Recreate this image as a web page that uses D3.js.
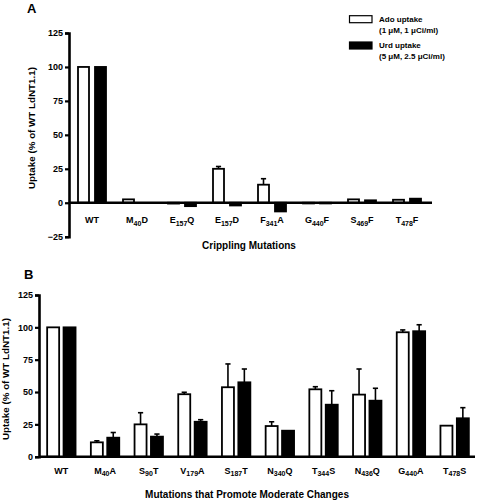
<!DOCTYPE html>
<html><head><meta charset="utf-8">
<script src="https://cdn.jsdelivr.net/npm/d3@7"></script>
<style>
body{margin:0;background:#fff;}
svg text{font-family:"Liberation Sans",Arial,sans-serif;font-weight:bold;fill:#000;}
</style></head>
<body><svg id="c" width="477" height="500"></svg>
<script>
// Panel A data
const catsA = ["WT","M40D","E157Q","E157D","F341A","G440F","S469F","T478F"];
const adoA = [100, 2.5, -0.6, 25, 13.3, -0.5, 2.5, 2.2];
const adoErrA = [0, 0, 0, 1.7, 4.4, 0, 0, 0];
const urdA = [100, 0, -2.5, -2, -6.4, -0.5, 1.8, 3];
const urdErrA = [0, 0, 0, 0, 0, 0, 0, 0];
const ticksA = [-25, 0, 25, 50, 75, 100, 125];

// Panel B data
const catsB = ["WT","M40A","S90T","V179A","S187T","N340Q","T344S","N436Q","G440A","T478S"];
const adoB = [100, 11.1, 25, 48.3, 53.7, 23.7, 52.1, 48, 96.2, 24];
const adoErrB = [0, 1.2, 9, 1.5, 18, 3.3, 2, 19.8, 1.8, 0];
const urdB = [100, 14.7, 15.5, 27, 57.5, 20.1, 40.2, 43.3, 97, 29.7];
const urdErrB = [0, 4, 2, 1.6, 10.3, 0, 10.8, 9.6, 5, 8.2];
const ticksB = [0, 25, 50, 75, 100, 125];

const seriesNames = ["Ado uptake", "Urd uptake"];
const seriesSub = ["(1 \u03bcM, 1 \u03bcCi/ml)", "(5 \u03bcM, 2.5 \u03bcCi/ml)"];
const yTitle = "Uptake (% of WT LdNT1.1)";

const svg = d3.select("#c");

function label(sel, txt){
  const m = txt.match(/^([A-Z])(\d+)([A-Z])$/);
  if(!m){ sel.text(txt); return; }
  sel.append("tspan").text(m[1]);
  sel.append("tspan").attr("font-size","7px").attr("dy","2.5").text(m[2]);
  sel.append("tspan").attr("dy","-2.5").text(m[3]);
}

function panel(o){
  const g = svg.append("g");
  const x = d3.scaleBand().domain(o.cats).range(o.xr);
  const y = d3.scaleLinear().domain(o.yd).range(o.yr);
  const bw = o.bw, off = o.off;
  const data = o.cats.map((c,i)=>({c, a:o.ado[i], ae:o.adoErr[i], u:o.urd[i], ue:o.urdErr[i]}));
  // error bars
  [["a","ae",-off],["u","ue",off]].forEach(([k,ek,dx])=>{
    const ed = data.filter(d=>d[ek]>0);
    g.selectAll(null).data(ed).enter().append("line")
      .attr("x1",d=>x(d.c)+x.bandwidth()/2+dx).attr("x2",d=>x(d.c)+x.bandwidth()/2+dx)
      .attr("y1",d=>y(d[k])).attr("y2",d=>y(d[k]+d[ek]))
      .attr("stroke","#000").attr("stroke-width",1.6);
    g.selectAll(null).data(ed).enter().append("line")
      .attr("x1",d=>x(d.c)+x.bandwidth()/2+dx-2.6).attr("x2",d=>x(d.c)+x.bandwidth()/2+dx+2.6)
      .attr("y1",d=>y(d[k]+d[ek])).attr("y2",d=>y(d[k]+d[ek]))
      .attr("stroke","#000").attr("stroke-width",1.6);
  });
  g.selectAll(null).data(data).enter().append("rect")
    .attr("x",d=>x(d.c)+x.bandwidth()/2-off-bw/2).attr("width",bw)
    .attr("y",d=>y(Math.max(0,d.a))).attr("height",d=>Math.abs(y(d.a)-y(0)))
    .attr("fill","#fff").attr("stroke","#000").attr("stroke-width",1.8);
  g.selectAll(null).data(data).enter().append("rect")
    .attr("x",d=>x(d.c)+x.bandwidth()/2+off-bw/2).attr("width",bw)
    .attr("y",d=>y(Math.max(0,d.u))).attr("height",d=>Math.abs(y(d.u)-y(0)))
    .attr("fill","#000").attr("stroke","#000").attr("stroke-width",1.8);
  // y axis
  const ya = d3.axisLeft(y).tickValues(o.ticks).tickSize(4).tickPadding(2);
  const yg = g.append("g").attr("transform",`translate(${o.xr[0]-0.5},0)`).call(ya);
  yg.select(".domain").attr("stroke-width",2.6);
  yg.selectAll(".tick line").attr("stroke-width",2.2);
  yg.selectAll(".tick text").attr("font-size","9px").attr("font-family",null);
  // x axis line at 0
  g.append("line").attr("x1",o.xr[0]-0.5).attr("x2",o.xEnd)
    .attr("y1",y(0)).attr("y2",y(0)).attr("stroke","#000").attr("stroke-width",2.6);
  // category labels
  g.selectAll(null).data(o.cats).enter().append("text")
    .attr("x",d=>x(d)+x.bandwidth()/2).attr("y",o.labY)
    .attr("text-anchor","middle").attr("font-size","9px")
    .each(function(d){ label(d3.select(this), d); });
  // titles
  g.append("text").attr("x",o.xt[0]).attr("y",o.xt[1]).attr("text-anchor","middle")
    .attr("font-size","10px").text(o.xTitle);
  g.append("text").attr("transform",`translate(${o.yt[0]},${o.yt[1]}) rotate(-90)`)
    .attr("text-anchor","middle").attr("font-size","9.8px").text(yTitle);
  g.append("text").attr("x",o.pl[0]).attr("y",o.pl[1]).attr("font-size","13px").text(o.panel);
}

panel({cats:catsA, ado:adoA, adoErr:adoErrA, urd:urdA, urdErr:urdErrA, ticks:ticksA,
  xr:[69.5,429.5], xEnd:432, yd:[-25,125], yr:[236.7,33], bw:11, off:8.5,
  labY:223, xTitle:"Crippling Mutations", xt:[249,249], yt:[35,128], pl:[27,13], panel:"A"});

panel({cats:catsB, ado:adoB, adoErr:adoErrB, urd:urdB, urdErr:urdErrB, ticks:ticksB,
  xr:[39.5,476.5], xEnd:475, yd:[0,125], yr:[456.7,295], bw:12, off:8.2,
  labY:473.5, xTitle:"Mutations that Promote Moderate Changes", xt:[247,498], yt:[9,379], pl:[24,279], panel:"B"});

// legend
const lg = svg.append("g");
[0,1].forEach(i=>{
  const yy = [15.7,42][i];
  lg.append("rect").attr("x",349.5).attr("y",yy).attr("width",22.5).attr("height",7)
    .attr("fill",i?"#000":"#fff").attr("stroke","#000").attr("stroke-width",1.2);
  lg.append("text").attr("x",379).attr("y",yy+6).attr("font-size","8px").text(seriesNames[i]);
  lg.append("text").attr("x",379).attr("y",yy+17).attr("font-size","8px").text(seriesSub[i]);
});
</script></body></html>
